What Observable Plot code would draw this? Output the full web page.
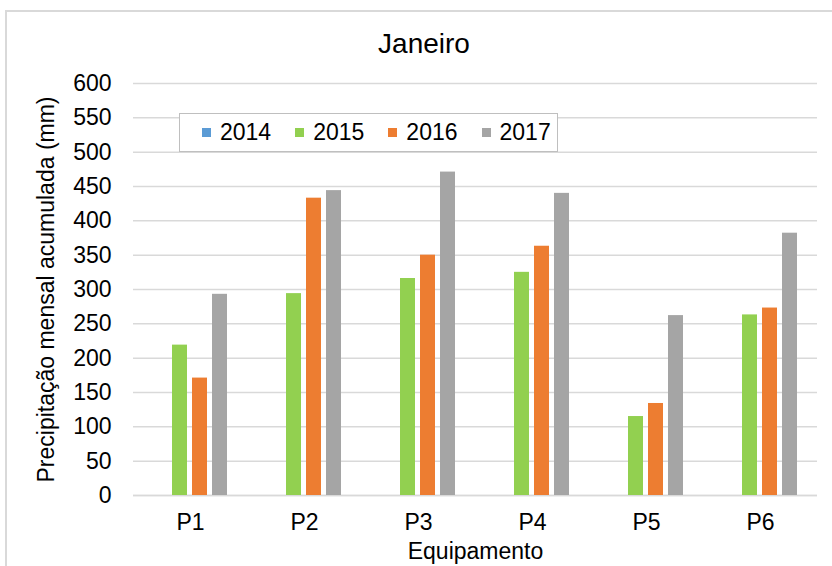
<!DOCTYPE html>
<html><head><meta charset="utf-8">
<script src="https://cdn.jsdelivr.net/npm/d3@7"></script>
<script src="https://cdn.jsdelivr.net/npm/@observablehq/plot@0.6"></script>
<style>
body{margin:0;background:#fff;font-family:"Liberation Sans",Arial,sans-serif;}
#wrap{position:relative;width:832px;height:566px;overflow:hidden;background:#fff;}
#frame{position:absolute;left:5px;top:10px;width:900px;height:700px;border-left:2px solid #d9d9d9;border-top:2px solid #d9d9d9;}
#chart{position:absolute;left:0;top:0;}
#title{position:absolute;left:0;width:848px;top:26px;text-align:center;font-size:28px;color:#000;line-height:36px;}
#legend{position:absolute;left:179px;top:113px;width:379px;height:39px;border:1px solid #bfbfbf;background:#fff;display:flex;align-items:center;padding-left:22px;box-sizing:border-box;font-size:23px;color:#000;}
.item{display:flex;align-items:center;margin-right:24px;}
.sw{width:9px;height:9px;margin-right:9px;}
</style>
</head><body>
<div id="wrap">
  <div id="frame"></div>
  <div id="chart"></div>
  <div id="title">Janeiro</div>
  <div id="legend"></div>
</div>
<script>
const equipamentos = ["P1", "P2", "P3", "P4", "P5", "P6"];
const anos = ["2014", "2015", "2016", "2017"];
const v2014 = [null, null, null, null, null, null];
const v2015 = [219, 294, 316, 325, 115, 263];
const v2016 = [171, 433, 350, 363, 134, 273];
const v2017 = [293, 444, 471, 440, 262, 382];
const cores = ["#5B9BD5", "#92D050", "#ED7D31", "#A5A5A5"];
const yTicks = [0, 50, 100, 150, 200, 250, 300, 350, 400, 450, 500, 550, 600];

const series = [v2014, v2015, v2016, v2017];
const data = [];
equipamentos.forEach((e, i) => {
  anos.forEach((a, j) => {
    if (series[j][i] != null) data.push({equip: e, ano: a, valor: series[j][i]});
  });
});

const chart = Plot.plot({
  width: 832, height: 566,
  marginLeft: 132, marginRight: 14, marginTop: 83, marginBottom: 71,
  style: {fontFamily: '"Liberation Sans", Arial, sans-serif', fontSize: "23px", color: "#000", background: "transparent", overflow: "visible"},
  fx: {domain: equipamentos, padding: 0, label: null},
  x: {domain: anos, paddingInner: 0.24, paddingOuter: 0.84, axis: null},
  y: {domain: [0, 600], label: null},
  color: {domain: anos, range: cores},
  marks: [
    Plot.gridY(yTicks, {stroke: "#d9d9d9", strokeOpacity: 1, strokeWidth: 1.5}),
    Plot.ruleY([0], {stroke: "#d9d9d9", strokeWidth: 1.5}),
    Plot.axisY(yTicks, {tickSize: 0, tickPadding: 22, fontSize: 23, label: "Precipitação mensal acumulada (mm)", labelAnchor: "center", labelArrow: "none", labelOffset: 96}),
    Plot.axisFx({anchor: "bottom", tickSize: 0, tickPadding: 18, fontSize: 23, label: "Equipamento", labelAnchor: "center", labelArrow: "none", labelOffset: 63}),
    Plot.barY(data, {fx: "equip", x: "ano", y: "valor", fill: "ano"})
  ]
});
document.getElementById("chart").appendChild(chart);

const leg = document.getElementById("legend");
anos.forEach((a, j) => {
  const it = document.createElement("div");
  it.className = "item";
  const sw = document.createElement("div");
  sw.className = "sw";
  sw.style.background = cores[j];
  const t = document.createElement("span");
  t.textContent = a;
  it.appendChild(sw); it.appendChild(t);
  leg.appendChild(it);
});
</script>
</body></html>
